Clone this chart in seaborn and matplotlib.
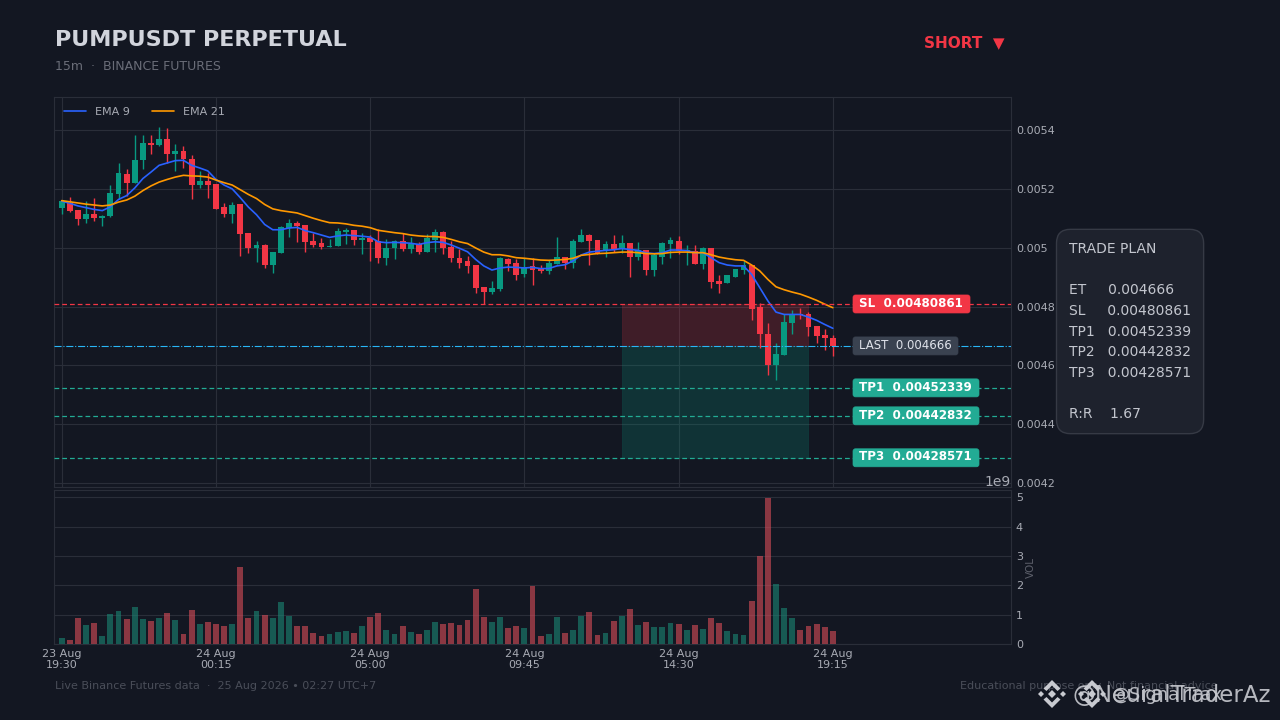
import numpy as np
import pandas as pd
import matplotlib
matplotlib.use("Agg")
import matplotlib.pyplot as plt
import seaborn as sns
from matplotlib.patches import FancyBboxPatch, Polygon
from matplotlib.transforms import IdentityTransform

# candles, prices in units of 1e-6
opens = [5136, 5152, 5129, 5099, 5116, 5102, 5107, 5184, 5252, 5221, 5297, 5357, 5350, 5371, 5320, 5330,
         5303, 5214, 5228, 5218, 5139, 5116, 5150, 5051, 5000, 5010, 4942, 4983, 5068, 5085, 5078, 5024,
         5015, 5001, 5005, 5052, 5059, 5025, 5032, 5023, 4964, 4998, 5022, 4995, 5011, 4984, 5027, 5052,
         5001, 4964, 4954, 4940, 4865, 4848, 4858, 4960, 4947, 4909, 4937, 4930, 4920, 4943, 4967, 4947,
         5018, 5042, 5025, 4988, 5011, 4994, 5015, 4967, 4991, 4923, 4970, 5011, 5022, 4988, 4988, 4943,
         4998, 4886, 4879, 4902, 4924, 4942, 4797, 4705, 4600, 4634, 4743, 4773, 4773, 4733, 4702, 4692]
highs = [5163, 5172, 5129, 5158, 5169, 5112, 5212, 5289, 5266, 5382, 5382, 5382, 5409, 5407, 5354, 5344,
         5314, 5259, 5255, 5218, 5152, 5154, 5150, 5051, 5022, 5012, 4987, 5074, 5099, 5092, 5078, 5050,
         5034, 5031, 5067, 5068, 5059, 5049, 5042, 5062, 5028, 5025, 5049, 5036, 5019, 5045, 5065, 5057,
         5021, 4994, 4972, 4940, 4865, 4887, 4967, 4965, 4960, 4964, 4965, 4942, 4957, 5037, 4969, 5028,
         5065, 5048, 5025, 5022, 5042, 5044, 5015, 5019, 4991, 4983, 5019, 5037, 5041, 5008, 5010, 5003,
         4998, 4908, 4906, 4926, 4954, 4942, 4813, 4745, 4675, 4773, 4788, 4796, 4782, 4733, 4725, 4703]
lows = [5114, 5121, 5077, 5084, 5090, 5075, 5105, 5166, 5175, 5221, 5269, 5318, 5345, 5289, 5261, 5271,
        5166, 5204, 5169, 5133, 5103, 5084, 4972, 4981, 4951, 4931, 4914, 4983, 5036, 5018, 4985, 5001,
        4997, 5001, 5005, 5014, 5008, 4980, 4955, 4949, 4940, 4960, 4989, 4981, 4977, 4984, 4985, 4977,
        4951, 4931, 4913, 4845, 4809, 4842, 4854, 4921, 4891, 4901, 4873, 4913, 4909, 4943, 4926, 4930,
        5018, 4942, 4977, 4969, 4984, 4981, 4901, 4957, 4908, 4905, 4946, 4966, 4979, 4940, 4943, 4926,
        4863, 4845, 4879, 4902, 4910, 4755, 4660, 4568, 4551, 4634, 4707, 4759, 4701, 4677, 4653, 4633]
closes = [5159, 5124, 5099, 5116, 5102, 5109, 5187, 5255, 5221, 5299, 5357, 5350, 5371, 5320, 5330, 5303,
          5214, 5228, 5214, 5133, 5116, 5146, 5048, 5000, 5010, 4942, 4986, 5071, 5085, 5075, 5020, 5010,
          5001, 5005, 5056, 5059, 5025, 5032, 5018, 4964, 4998, 5023, 4995, 5011, 4984, 5032, 5052, 4998,
          4964, 4947, 4937, 4862, 4848, 4862, 4964, 4943, 4906, 4933, 4923, 4920, 4947, 4967, 4947, 5022,
          5042, 5022, 4977, 5011, 4994, 5015, 4967, 4991, 4923, 4974, 5015, 5025, 4988, 4991, 4943, 4998,
          4882, 4875, 4906, 4926, 4940, 4790, 4705, 4600, 4637, 4746, 4773, 4770, 4729, 4699, 4692, 4666]

ema9 = [5158, 5151, 5142, 5136, 5130, 5126, 5139, 5164, 5177, 5203, 5235, 5257, 5280, 5288, 5296, 5297,
        5280, 5271, 5261, 5232, 5213, 5200, 5170, 5138, 5112, 5079, 5061, 5061, 5067, 5069, 5058, 5051,
        5043, 5035, 5040, 5043, 5041, 5039, 5036, 5020, 5017, 5018, 5017, 5015, 5011, 5017, 5020, 5018,
        5009, 4998, 4986, 4960, 4938, 4924, 4931, 4934, 4933, 4931, 4933, 4929, 4929, 4938, 4942, 4955,
        4975, 4985, 4988, 4991, 4993, 4997, 4994, 4991, 4982, 4980, 4983, 4992, 4992, 4990, 4983, 4983,
        4966, 4949, 4941, 4938, 4938, 4909, 4864, 4819, 4781, 4773, 4773, 4773, 4764, 4753, 4739, 4726]
ema21 = [5160, 5156, 5152, 5148, 5145, 5142, 5145, 5155, 5162, 5175, 5194, 5210, 5223, 5232, 5240, 5246,
         5244, 5243, 5240, 5230, 5221, 5213, 5197, 5181, 5167, 5147, 5132, 5126, 5122, 5118, 5109, 5100,
         5092, 5085, 5084, 5081, 5076, 5073, 5068, 5059, 5055, 5051, 5048, 5043, 5040, 5038, 5038, 5035,
         5028, 5020, 5014, 4999, 4985, 4976, 4976, 4972, 4966, 4964, 4961, 4958, 4957, 4958, 4960, 4964,
         4974, 4977, 4980, 4981, 4983, 4985, 4985, 4983, 4980, 4979, 4980, 4984, 4985, 4985, 4983, 4983,
         4976, 4968, 4963, 4959, 4957, 4941, 4921, 4892, 4867, 4857, 4849, 4842, 4832, 4821, 4808, 4796]

# volume in units of 1e9
volumes = [0.20, 0.14, 0.89, 0.65, 0.72, 0.27, 1.02, 1.12, 0.85, 1.26, 0.85, 0.78, 0.89, 1.06, 0.82, 0.34,
           1.16, 0.68, 0.75, 0.68, 0.61, 0.68, 2.63, 0.89, 1.12, 0.98, 0.89, 1.43, 0.95, 0.61, 0.61, 0.38,
           0.27, 0.34, 0.41, 0.44, 0.38, 0.61, 0.92, 1.06, 0.48, 0.34, 0.61, 0.41, 0.34, 0.48, 0.75, 0.68,
           0.72, 0.65, 0.82, 1.88, 0.92, 0.75, 0.92, 0.55, 0.61, 0.55, 1.98, 0.27, 0.34, 0.92, 0.38, 0.48,
           0.95, 1.09, 0.31, 0.38, 0.78, 0.95, 1.19, 0.65, 0.75, 0.58, 0.58, 0.72, 0.68, 0.48, 0.65, 0.51,
           0.89, 0.72, 0.44, 0.34, 0.31, 1.47, 2.99, 4.98, 2.05, 1.23, 0.89, 0.48, 0.61, 0.68, 0.58, 0.44]

x_tick_idx = [0, 19, 38, 57, 76, 95]
x_tick_labels = ["23 Aug\n19:30", "24 Aug\n00:15", "24 Aug\n05:00", "24 Aug\n09:45", "24 Aug\n14:30", "24 Aug\n19:15"]
price_ticks = [0.0042, 0.0044, 0.0046, 0.0048, 0.005, 0.0052, 0.0054]
price_tick_labels = ["0.0042", "0.0044", "0.0046", "0.0048", "0.005", "0.0052", "0.0054"]

entry = 0.004666
sl = 0.00480861
tp1 = 0.00452339
tp2 = 0.00442832
tp3 = 0.00428571
zone_start, zone_end = 69, 92

BG = "#131722"
GRID = "#2A2E39"
UP = "#089981"
DOWN = "#F23645"
TP_COL = "#22AB94"
TICK = "#A8ABB4"

sns.set_theme(style="darkgrid", rc={
    "figure.facecolor": BG, "axes.facecolor": BG, "axes.edgecolor": GRID,
    "grid.color": GRID, "grid.linewidth": 0.8, "axes.linewidth": 0.8,
    "savefig.facecolor": BG,
})
plt.rcParams["font.family"] = ["DejaVu Sans"]

df = pd.DataFrame({"idx": np.arange(len(opens)), "open": opens, "high": highs, "low": lows, "close": closes})
df[["open", "high", "low", "close"]] = df[["open", "high", "low", "close"]] * 1e-6
df["ema9"] = np.array(ema9) * 1e-6
df["ema21"] = np.array(ema21) * 1e-6
df["volume"] = np.array(volumes) * 1e9
df["side"] = np.where(df["close"] >= df["open"], "up", "down")

W, H = 1280, 720


def axes_px(left, top, right, bottom):
    return [left / W, 1 - bottom / H, (right - left) / W, (bottom - top) / H]


fig = plt.figure(figsize=(12.8, 7.2), dpi=100)
ax = fig.add_axes(axes_px(54, 97, 1011, 486.5))
ax_vol = fig.add_axes(axes_px(54, 490, 1011, 644))
XLIM = (-0.95, 116.95)

# trade zones
ax.fill_between([zone_start, zone_end], entry, sl, color=DOWN, alpha=0.2, linewidth=0.5, zorder=1)
ax.fill_between([zone_start, zone_end], tp3, entry, color=UP, alpha=0.22, linewidth=0.5, zorder=1)

# candles
colours = df["side"].map({"up": UP, "down": DOWN})
ax.vlines(df["idx"], df["low"], df["high"], colors=colours, linewidth=1.0, zorder=3)
ax.bar(df["idx"], (df["close"] - df["open"]).abs(), bottom=df[["open", "close"]].min(axis=1),
       width=0.72, color=colours, linewidth=0, zorder=4)

# EMAs
sns.lineplot(data=df, x="idx", y="ema9", color="#2962FF", linewidth=1.2, label="EMA 9", ax=ax, zorder=5)
sns.lineplot(data=df, x="idx", y="ema21", color="#FF9800", linewidth=1.2, label="EMA 21", ax=ax, zorder=5)

# levels
DASH = (0, (3.8, 2.4))
ax.axhline(sl, color=DOWN, linestyle=DASH, linewidth=0.9, zorder=6)
ax.axhline(entry, color="#29B6F6", linestyle="-.", linewidth=0.8, zorder=6)
for tp in [tp1, tp2, tp3]:
    ax.axhline(tp, color=TP_COL, linestyle=DASH, linewidth=0.9, zorder=6)

ax.set_xlim(XLIM)
ax.set_ylim(0.0041881, 0.00551224)
ax.set_xticks(x_tick_idx)
ax.set_xticklabels([])
ax.set_yticks(price_ticks)
ax.set_yticklabels(price_tick_labels)
ax.yaxis.tick_right()
ax.tick_params(axis="y", length=0, labelsize=8, labelcolor=TICK, pad=3.5)
ax.tick_params(axis="x", length=0)
ax.set_xlabel("")
ax.set_ylabel("")
ax.grid(True, color=GRID, linewidth=0.8)
ax.set_axisbelow(True)
ax.legend(loc="upper left", ncol=2, frameon=False, fontsize=8, labelcolor=TICK,
          borderaxespad=0.49, columnspacing=2.0)

# volume
sns.barplot(data=df, x="idx", y="volume", hue="side", native_scale=True, dodge=False,
            palette={"up": UP, "down": DOWN}, width=0.72, alpha=0.6, linewidth=0,
            legend=False, ax=ax_vol, zorder=3)
ax_vol.set_xlim(XLIM)
ax_vol.set_ylim(0, 5.25e9)
ax_vol.set_xticks(x_tick_idx)
ax_vol.set_xticklabels(x_tick_labels)
ax_vol.set_yticks(np.arange(6) * 1e9)
ax_vol.yaxis.tick_right()
ax_vol.yaxis.set_label_position("right")
ax_vol.tick_params(axis="y", length=0, labelsize=8, labelcolor=TICK, pad=3.5)
ax_vol.tick_params(axis="x", length=0, labelsize=8, labelcolor=TICK, pad=3.5)
ax_vol.yaxis.get_offset_text().set_color(TICK)
ax_vol.yaxis.get_offset_text().set_fontsize(10)
ax_vol.set_xlabel("")
ax_vol.set_ylabel("VOL", fontsize=7.5, color="#5D606B", labelpad=2)
ax_vol.grid(False, axis="x")
ax_vol.grid(True, axis="y", color=GRID, linewidth=0.8)
ax_vol.set_axisbelow(True)


def fig_text(px, py, s, **kw):
    return fig.text(px / W, 1 - py / H, s, **kw)


# price badges, drawn over the axes in pixel space
badges = [
    (sl, "SL  0.00480861", DOWN, "white", "bold", 117),
    (entry, "LAST  0.004666", "#3A4250", "#E0E3EB", "normal", 105),
    (tp1, "TP1  0.00452339", TP_COL, "white", "bold", 126),
    (tp2, "TP2  0.00442832", TP_COL, "white", "bold", 126),
    (tp3, "TP3  0.00428571", TP_COL, "white", "bold", 126),
]
for level, label, face, text_col, weight, box_w in badges:
    py = H - ax.transData.transform((0, level))[1]
    fig.add_artist(FancyBboxPatch((853, H - py - 9), box_w, 18, boxstyle="round,pad=0,rounding_size=2.5",
                                  facecolor=face, edgecolor=face, linewidth=0.5,
                                  transform=IdentityTransform(), zorder=10))
    fig_text(859, py - 0.8, label, color=text_col, fontsize=8.6 if weight == "bold" else 8.5, fontweight=weight,
             va="center", ha="left", zorder=11)

# header
fig_text(55, 40, "PUMPUSDT PERPETUAL", fontsize=16, fontweight="bold", color="#D1D4DC", va="center")
fig_text(55, 66, "15m  ·  BINANCE FUTURES", fontsize=9, color="#6A6D78", va="center")
fig_text(1005, 43, "SHORT  ▼", fontsize=11, fontweight="bold", color=DOWN, va="center", ha="right")

# trade plan box
plan = ("TRADE PLAN\n\nET     0.004666\nSL     0.00480861\nTP1   0.00452339\n"
        "TP2   0.00442832\nTP3   0.00428571\n\nR:R    1.67")
fig_text(1069, 331.5, plan, fontsize=10, color="#C3C6CE", va="center", ha="left", linespacing=1.606,
         bbox=dict(boxstyle="round,pad=0.9,rounding_size=1.0", facecolor="#1E222D", edgecolor="#363A45", linewidth=1))

# footer
fig_text(55, 686, "Live Binance Futures data  ·  25 Aug 2026 • 02:27 UTC+7", fontsize=8, color="#4A4E59", va="center")
fig_text(1218, 686, "Educational purpose only. Not financial advice", fontsize=8, color="#4A4E59", va="center", ha="right")


def add_poly(pts):
    fig.add_artist(Polygon([(x / W, 1 - y / H) for x, y in pts], closed=True, transform=fig.transFigure,
                           facecolor="#C8CAD0", edgecolor="none", zorder=12))


def diamond(cx, cy, r):
    add_poly([(cx, cy - r), (cx + r, cy), (cx, cy + r), (cx - r, cy)])


def logo(cx, cy):
    diamond(cx, cy, 4)
    diamond(cx - 11, cy, 3)
    diamond(cx + 11, cy, 3)
    for sign in (-1, 1):
        add_poly([(cx, cy + sign * 14), (cx + 8.5, cy + sign * 5.5), (cx + 5.5, cy + sign * 3), (cx, cy + sign * 8.5),
                  (cx - 5.5, cy + sign * 3), (cx - 8.5, cy + sign * 5.5)])


logo(1052, 694)
logo(1092, 694)
fig_text(1072, 695, "@NeuralTraderAz", fontsize=16.5, color="#C8CAD0", va="center", ha="left", alpha=0.9, zorder=12)
fig_text(1112, 695, "@SignalTrax", fontsize=13, color="#C8CAD0", va="center", ha="left", alpha=0.9, zorder=12)

fig.savefig("out.png", dpi=100)
